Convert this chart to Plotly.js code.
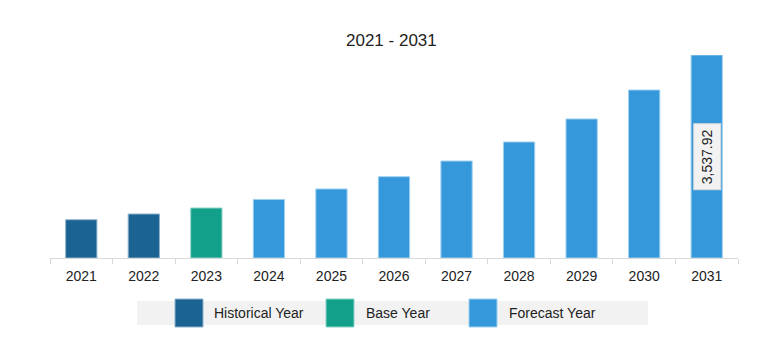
<!DOCTYPE html>
<html>
<head>
<meta charset="utf-8">
<script src="https://cdn.plot.ly/plotly-3.0.1.min.js"></script>
<style>html,body{margin:0;padding:0;background:#fff;}#chart{width:781px;height:362px;}</style>
</head>
<body>
<div id="chart"></div>
<script>
var years = ["2021","2022","2023","2024","2025","2026","2027","2028","2029","2030","2031"];
var values = [667, 767, 871, 1021, 1203, 1417, 1690, 2022, 2423, 2928, 3537.92];
var periods = ["Historical Year","Historical Year","Base Year","Forecast Year","Forecast Year","Forecast Year","Forecast Year","Forecast Year","Forecast Year","Forecast Year","Forecast Year"];
var legendNames = ["Historical Year","Base Year","Forecast Year"];
var titleText = "2021 - 2031";
var labelText = "3,537.92";

var colorMap = {"Historical Year":"#1a6392","Base Year":"#13a08a","Forecast Year":"#3498db"};
var lineMap = {"Historical Year":"#8fb3cc","Base Year":"#8ed3c8","Forecast Year":"#9fd0f0"};

var FONT = "Liberation Sans, Arial, sans-serif";
var L = 50, R = 738, T = 55, B = 258;
function px(x){ return (x - L) / (R - L); }
function py(y){ return (B - y) / (B - T); }

var trace = {
  type: "bar",
  x: years,
  y: values,
  marker: {
    color: periods.map(function(p){ return colorMap[p]; }),
    line: {color: periods.map(function(p){ return lineMap[p]; }), width: 1}
  },
  hoverinfo: "x+y",
  showlegend: false
};

var shapes = [{
  type: "rect", xref: "paper", yref: "paper",
  x0: px(137), x1: px(648), y0: py(325), y1: py(301),
  fillcolor: "#f2f2f2", line: {width: 0}, layer: "below"
}];
var annotations = [{
  text: titleText, xref: "paper", yref: "paper",
  x: px(391), y: py(40), xanchor: "center", yanchor: "middle",
  showarrow: false, font: {family: FONT, size: 17, color: "#222"}
}, {
  text: labelText, x: years.length - 1, y: values[values.length-1] / 2,
  xref: "x", yref: "y", textangle: -90, showarrow: false,
  font: {family: FONT, size: 14, color: "#222"},
  bgcolor: "#f2f2f2", bordercolor: "#d9d9d9", borderwidth: 1, borderpad: 5
}];
var swX = [175, 326, 469];
var txtX = [212, 364, 507];
for (var i = 0; i < legendNames.length; i++) {
  shapes.push({
    type: "rect", xref: "paper", yref: "paper",
    x0: px(swX[i]), x1: px(swX[i] + 28), y0: py(327), y1: py(299),
    fillcolor: colorMap[legendNames[i]], line: {color: lineMap[legendNames[i]], width: 1}
  });
  annotations.push({
    text: legendNames[i], xref: "paper", yref: "paper",
    x: px(txtX[i]), y: py(313), xanchor: "left", yanchor: "middle",
    showarrow: false, font: {family: FONT, size: 14, color: "#222"}
  });
}

var layout = {
  width: 781, height: 362,
  margin: {l: L, r: 781 - R, t: T, b: 362 - B},
  paper_bgcolor: "#fff", plot_bgcolor: "#fff",
  bargap: 0.5,
  font: {family: FONT, size: 14, color: "#222"},
  xaxis: {
    type: "category", range: [-0.5, years.length - 0.5], autorange: false,
    showline: true, linecolor: "#d9d9d9", linewidth: 1,
    ticks: "outside", tickson: "boundaries", ticklen: 5, tickcolor: "#d9d9d9",
    ticklabelstandoff: 5,
    showgrid: false, tickangle: 0, tickfont: {family: FONT, size: 14, color: "#222"}, fixedrange: true
  },
  yaxis: {
    range: [0, values[values.length-1]], autorange: false, visible: false, showgrid: false, zeroline: false, fixedrange: true
  },
  shapes: shapes,
  annotations: annotations,
  showlegend: false
};

Plotly.newPlot("chart", [trace], layout, {displayModeBar: false, staticPlot: true});
</script>
</body>
</html>
